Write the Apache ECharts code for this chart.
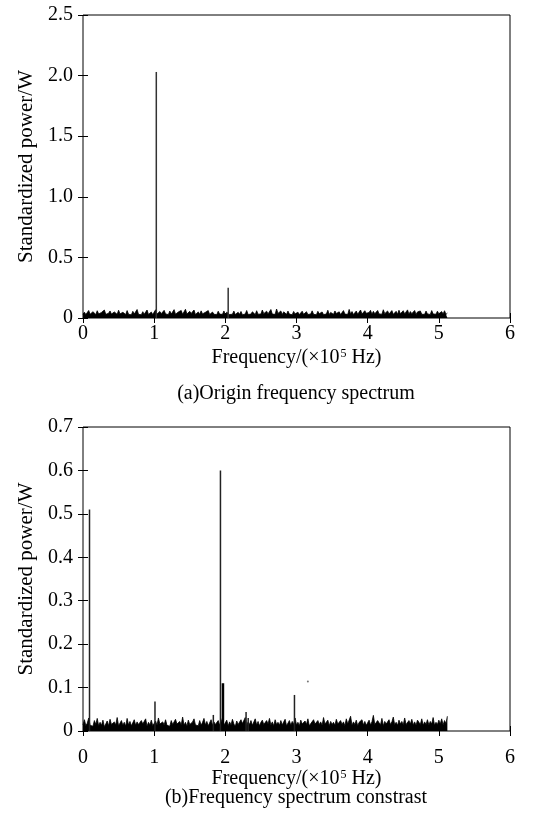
<!DOCTYPE html>
<html>
<head>
<meta charset="utf-8">
<script src="https://cdn.jsdelivr.net/npm/echarts@6/dist/echarts.min.js"></script>
<style>html,body{margin:0;padding:0;background:#fff}#c{width:556px;height:815px}</style>
</head>
<body>
<div id="c"></div>
<script>
// ---- data ----
var freqStep = 0.02; // ×10^5 Hz between noise bins, bins start at 0
var xTicksLabels = ['0','1','2','3','4','5','6'];
var yTicksA = [0, 0.5, 1.0, 1.5, 2.0, 2.5];
var yTicksB = [0, 0.1, 0.2, 0.3, 0.4, 0.5, 0.6, 0.7];

// (a) noise floor of original spectrum
var noiseA = [
.030,.048,.028,.035,.062,.031,.026,.052,.038,.029,.060,.033,.027,.046,.036,.066,.030,.025,.039,.058,
.032,.028,.050,.037,.030,.064,.034,.027,.047,.035,.029,.061,.031,.038,.026,.055,.033,.040,.070,.030,
.036,.027,.052,.031,.039,.066,.029,.035,.049,.028,.037,.068,.032,.026,.054,.036,.030,.063,.034,.040,
.028,.057,.033,.038,.069,.031,.027,.050,.036,.062,.030,.035,.072,.033,.029,.055,.038,.031,.066,.028,
.037,.050,.030,.059,.034,.027,.047,.033,.061,.029,.036,.049,.031,.035,.028,.056,.032,.038,.030,.058,
.026,.048,.034,.029,.045,.031,.057,.028,.035,.047,.030,.054,.027,.036,.033,.062,.029,.038,.032,.051,
.035,.028,.060,.031,.046,.033,.066,.036,.029,.056,.034,.048,.070,.032,.037,.030,.074,.038,.033,.058,
.029,.051,.035,.030,.057,.032,.045,.027,.054,.034,.031,.048,.028,.036,.056,.030,.035,.052,.029,.044,
.033,.059,.030,.038,.027,.055,.035,.031,.050,.028,.036,.033,.064,.029,.046,.034,.030,.058,.037,.031,
.051,.028,.035,.061,.032,.046,.030,.071,.034,.053,.029,.036,.057,.031,.044,.066,.033,.028,.060,.039,
.032,.045,.063,.030,.055,.035,.029,.062,.034,.050,.031,.068,.036,.029,.058,.033,.047,.061,.030,.044,
.055,.031,.064,.035,.029,.060,.034,.046,.067,.030,.053,.036,.033,.062,.029,.050,.035,.058,.031,.047,
.030,.057,.034,.045,.029,.061,.033,.048,.031,.056,.035,.028,.053,.033,.060,.030,.040
];
// (a) spectral lines [frequency, power]
var peaksA = [[1.03, 2.03], [2.04, 0.25]];

// (b) noise floor of contrast spectrum
var noiseB = [
.014,.026,.012,.018,.030,.013,.016,.011,.024,.015,.029,.012,.020,.013,.025,.010,.016,.023,.012,.027,
.015,.011,.021,.014,.031,.012,.016,.024,.013,.020,.011,.029,.014,.022,.012,.016,.026,.013,.021,.015,
.012,.024,.016,.013,.028,.011,.020,.014,.025,.012,.015,.023,.013,.030,.016,.012,.021,.014,.026,.013,
.017,.011,.024,.015,.013,.027,.016,.012,.022,.014,.032,.013,.020,.011,.025,.015,.012,.021,.028,.014,
.016,.012,.024,.013,.020,.029,.014,.022,.012,.016,.026,.013,.021,.015,.011,.024,.014,.020,.030,.013,
.015,.025,.012,.021,.014,.027,.016,.011,.023,.015,.013,.026,.017,.014,.031,.012,.021,.015,.024,.013,
.016,.028,.014,.022,.012,.020,.025,.015,.013,.024,.016,.029,.014,.021,.012,.026,.015,.020,.013,.024,
.014,.021,.027,.012,.016,.024,.013,.022,.015,.030,.014,.020,.012,.025,.016,.013,.023,.015,.028,.012,
.017,.014,.026,.016,.012,.024,.015,.021,.013,.031,.016,.014,.025,.012,.022,.015,.020,.013,.027,.016,
.013,.024,.015,.021,.012,.028,.016,.014,.034,.013,.021,.015,.025,.012,.020,.016,.026,.014,.022,.013,
.016,.025,.014,.021,.036,.015,.013,.024,.020,.014,.029,.012,.022,.016,.013,.026,.015,.021,.032,.014,
.020,.013,.025,.016,.022,.014,.030,.015,.012,.024,.016,.027,.014,.021,.013,.025,.020,.015,.028,.013,
.021,.015,.026,.014,.022,.016,.031,.013,.020,.015,.025,.016,.028,.014,.024,.017,.034
];
var peaksB = [[0.11, 0.51], [1.03, 0.068], [1.85, 0.037], [1.95, 0.60], [2.31, 0.044], [2.34, 0.030], [2.99, 0.083]];
var peaksBThick = [[1.955, 0.11]];
var strayDotB = [[3.16, 0.114]];

var captionA = '(a)Origin frequency spectrum';
var captionB = '(b)Frequency spectrum constrast';
var yName = 'Standardized power/W';

// ---- build ----
function toPairs(arr) {
  return arr.map(function (v, i) { return [Math.round(i * freqStep * 100) / 100, v]; });
}
var FONT = '"Liberation Serif", "Times New Roman", serif';
var rich = {
  a: { fontFamily: FONT, fontSize: 20, color: '#000' },
  s: { fontFamily: FONT, fontSize: 12, color: '#000', verticalAlign: 'top', padding: [0, 0, 0, 1] }
};
var xName = '{a|Frequency/(×10}{s|5}{a| Hz)}';

function xAxes(grid, labelMargin, nameGap) {
  return [{
    type: 'value', gridIndex: grid, position: 'bottom', min: 0, max: 6, interval: 1,
    axisLine: { show: false }, splitLine: { show: false },
    axisTick: { inside: true, length: 5, lineStyle: { color: '#000' } },
    axisLabel: { margin: labelMargin, fontFamily: FONT, fontSize: 20, color: '#000',
      formatter: function (v) { return xTicksLabels[Math.round(v)]; } },
    name: xName, nameLocation: 'middle', nameGap: nameGap,
    nameTextStyle: { rich: rich }
  }, {
    type: 'value', gridIndex: grid, position: 'top', min: 0, max: 6, interval: 1,
    axisLine: { show: false }, splitLine: { show: false },
    axisTick: { inside: true, length: 5, lineStyle: { color: '#000' } },
    axisLabel: { show: false }
  }];
}
function yAxes(grid, ticks, fmt) {
  var mx = ticks[ticks.length - 1], iv = ticks[1] - ticks[0];
  return [{
    type: 'value', gridIndex: grid, position: 'left', min: 0, max: mx, interval: iv,
    axisLine: { show: false }, splitLine: { show: false },
    axisTick: { inside: true, length: 5, lineStyle: { color: '#000' } },
    axisLabel: { margin: 10, fontFamily: FONT, fontSize: 20, color: '#000', formatter: fmt },
    name: yName, nameLocation: 'middle', nameGap: 46,
    nameTextStyle: { fontFamily: FONT, fontSize: 21, color: '#000' }
  }, {
    type: 'value', gridIndex: grid, position: 'right', min: 0, max: mx, interval: iv,
    axisLine: { show: false }, splitLine: { show: false },
    axisTick: { inside: true, length: 5, lineStyle: { color: '#000' } },
    axisLabel: { show: false }
  }];
}
function fmt1(v) { return v === 0 ? '0' : v.toFixed(1); }

var noiseSeries = function (data, xi, yi) {
  return { type: 'line', xAxisIndex: xi, yAxisIndex: yi, data: toPairs(data), showSymbol: false,
    symbol: 'none', sampling: null, lineStyle: { color: '#000', width: 0.8 },
    areaStyle: { color: '#000', opacity: 1, origin: 'start' }, z: 3, silent: true };
};
var barSeries = function (data, xi, yi, w, color) {
  return { type: 'bar', xAxisIndex: xi, yAxisIndex: yi, data: data, barWidth: w,
    itemStyle: { color: color }, z: 4, silent: true };
};

var option = {
  animation: false,
  backgroundColor: '#fff',
  grid: [
    { left: 83, top: 15, width: 427, height: 303, show: true, borderColor: '#000', borderWidth: 1, backgroundColor: 'transparent' },
    { left: 83, top: 427, width: 427, height: 304, show: true, borderColor: '#000', borderWidth: 1, backgroundColor: 'transparent' }
  ],
  xAxis: xAxes(0, 6, 30).concat(xAxes(1, 17, 36)),
  yAxis: yAxes(0, yTicksA, fmt1).concat(yAxes(1, yTicksB, fmt1)),
  series: [
    noiseSeries(noiseA, 0, 0),
    barSeries(peaksA, 0, 0, 1.5, '#333'),
    noiseSeries(noiseB, 2, 2),
    barSeries(peaksB, 2, 2, 1.5, '#222'),
    barSeries(peaksBThick, 2, 2, 2.5, '#000'),
    { type: 'scatter', xAxisIndex: 2, yAxisIndex: 2, data: strayDotB, symbolSize: 2,
      itemStyle: { color: '#555' }, silent: true }
  ],
  graphic: [
    { type: 'text', x: 296, y: 394, style: { text: captionA, font: '20px ' + FONT, fill: '#000', align: 'center', verticalAlign: 'middle' } },
    { type: 'text', x: 296, y: 798, style: { text: captionB, font: '20px ' + FONT, fill: '#000', align: 'center', verticalAlign: 'middle' } }
  ]
};
var chart = echarts.init(document.getElementById('c'), null, { renderer: 'canvas' });
chart.setOption(option);
</script>
</body>
</html>
